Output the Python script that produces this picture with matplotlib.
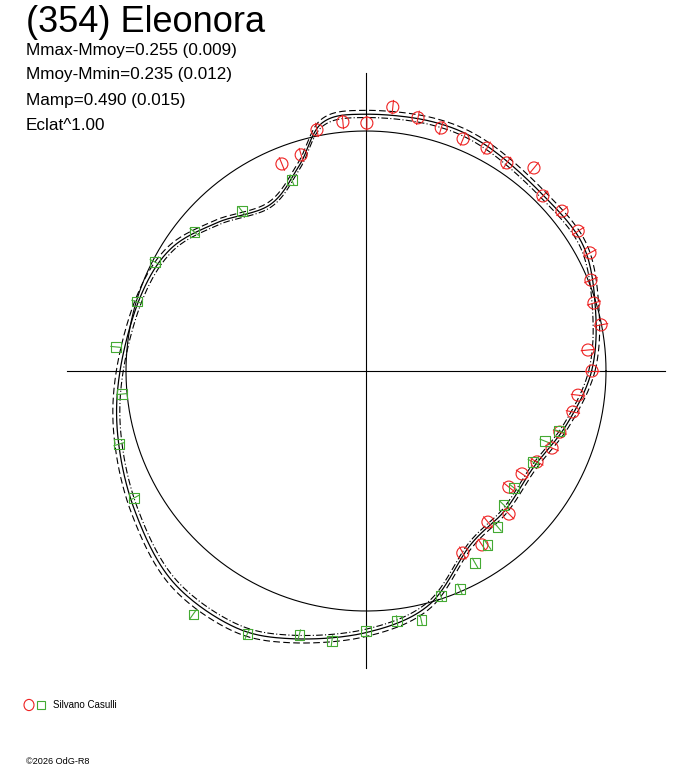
import numpy as np
import matplotlib
matplotlib.use("Agg")
import matplotlib.pyplot as plt

plt.rcParams['font.family'] = ['Liberation Sans', 'DejaVu Sans']

# model curve: angle (deg) -> relative radius
curve_ang = [0, 15, 30, 45, 62, 75, 90, 100, 108, 120, 135, 148, 162, 180, 195, 211, 227, 242, 254, 270, 285, 301, 315, 330, 345]
curve_r = [0.94, 0.99, 1.045, 1.04, 1.065, 1.075, 1.07, 1.05, 0.9, 0.8, 0.875, 0.96, 0.99, 1.025, 1.07, 1.125, 1.19, 1.2, 1.16, 1.09, 1.01, 0.845, 0.82, 0.805, 0.865]

red_ang = [101.5, 95.3, 89.8, 84.2, 78.4, 72.8, 67.3, 61.5, 55.9, 50.4, 44.7, 39.2, 33.4, 27.8, 22.0, 16.6, 11.1, 5.4, 0, 353.5, 348.8, 342.5, 337.5, 332, 326.6, 320.9, 315, 308.9, 303.7, 298, 112.1, 106.7]
red_r = [1.025, 1.042, 1.033, 1.105, 1.077, 1.06, 1.048, 1.057, 1.047, 1.098, 1.037, 1.054, 1.059, 1.055, 1.011, 0.991, 0.998, 0.929, 0.942, 0.889, 0.879, 0.847, 0.839, 0.807, 0.779, 0.767, 0.843, 0.809, 0.871, 0.859, 0.931, 0.94]

grn_ang = [111.2, 127.8, 141, 152.7, 163.2, 174.5, 185.4, 196.5, 208.7, 234.6, 245.7, 255.8, 262.8, 270, 277.1, 282.5, 288.4, 293.3, 299.6, 305, 310.2, 315.8, 321.7, 331.4, 338.6, 342.7]
grn_r = [0.853, 0.843, 0.921, 0.99, 0.997, 1.046, 1.021, 1.073, 1.102, 1.243, 1.203, 1.135, 1.134, 1.083, 1.05, 1.063, 0.988, 0.989, 0.92, 0.885, 0.851, 0.801, 0.786, 0.792, 0.801, 0.842]

W, H = 688, 768
CX, CY, S = 366, 371, 240.0
fig = plt.figure(figsize=(W/100, H/100), dpi=100)
ax = fig.add_axes([0, 0, 1, 1])
ax.set_xlim(-CX/S, (W-CX)/S)
ax.set_ylim(-(H-CY)/S, CY/S)
ax.axis('off')

ax.plot([-1.246, 1.246], [0, 0], color='black', lw=0.8)
ax.plot([0, 0], [-1.2375, 1.242], color='black', lw=0.8)
t = np.linspace(0, 2*np.pi, 400)
ax.plot(np.cos(t), np.sin(t), color='black', lw=0.8)

def catmull(ang, r, n=30):
    a = np.radians(ang)
    P = np.column_stack([np.array(r)*np.cos(a), np.array(r)*np.sin(a)])
    N = len(P)
    out = []
    for i in range(N):
        p0, p1, p2, p3 = P[(i-1) % N], P[i], P[(i+1) % N], P[(i+2) % N]
        for s in np.linspace(0, 1, n, endpoint=False):
            out.append(0.5*((2*p1) + (-p0+p2)*s + (2*p0-5*p1+4*p2-p3)*s**2 + (-p0+3*p1-3*p2+p3)*s**3))
    out.append(out[0])
    return np.array(out)

base = catmull(curve_ang, curve_r)
ax.plot(base[:, 0], base[:, 1], color='black', lw=0.9)
for f, ls in [(1.015, (0, (6, 3))), (0.987, (0, (6, 2, 1, 2)))]:
    c = base*f
    ax.plot(c[:, 0], c[:, 1], color='black', lw=0.8, linestyle=ls)

def markers(ang, r, color, marker, size, e):
    a = np.radians(ang)
    r = np.array(r)
    x, y = r*np.cos(a), r*np.sin(a)
    for ai, ri in zip(a, r):
        ax.plot([(ri-e)*np.cos(ai), (ri+e)*np.cos(ai)],
                [(ri-e)*np.sin(ai), (ri+e)*np.sin(ai)], color=color, lw=0.8)
    ax.scatter(x, y, s=size, marker=marker, facecolors='none', edgecolors=color, linewidths=0.8, zorder=3)

markers(red_ang, red_r, '#ee2222', 'o', 75, 0.028)
markers(grn_ang, grn_r, '#44aa33', 's', 45, 0.022)

ax.text(26/W, 1-22/H, "(354) Eleonora", transform=fig.transFigure, fontsize=26, va='center', ha='left')
for i, s in enumerate(["Mmax-Mmoy=0.255 (0.009)", "Mmoy-Mmin=0.235 (0.012)", "Mamp=0.490 (0.015)", "Eclat^1.00"]):
    ax.text(26/W, 1-(50+25*i)/H, s, transform=fig.transFigure, fontsize=12.3, va='center', ha='left')

fig.patches.append(matplotlib.patches.Circle((29/W, 1-705/H), 5/W, transform=fig.transFigure, fill=False, ec='#ee2222', lw=0.8))
fig.patches.append(matplotlib.patches.Rectangle((37/W, 1-709/H), 8/W, 8/H, transform=fig.transFigure, fill=False, ec='#44aa33', lw=0.8))
ax.text(53/W, 1-705/H, "Silvano Casulli", transform=fig.transFigure, fontsize=7, va='center', ha='left')
ax.text(26/W, 1-762/H, "©2026 OdG-R8", transform=fig.transFigure, fontsize=6.6, va='center', ha='left')

fig.savefig("out.png", dpi=100)
